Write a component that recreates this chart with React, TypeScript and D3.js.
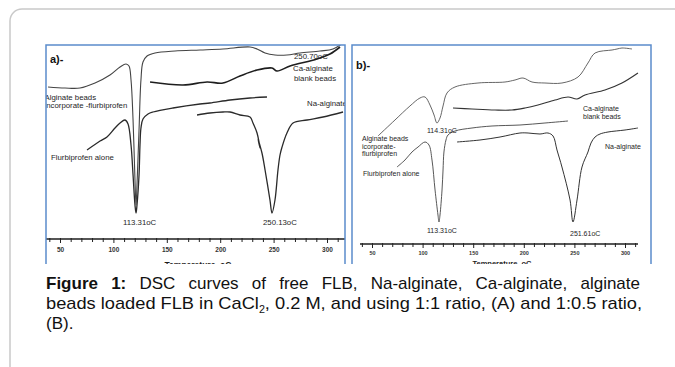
import * as d3 from 'd3';
import { useEffect, useRef } from 'react';

type Pt = [number, number];

// values: [temperature (oC), heat flow (arbitrary units)]

// panel a) 1:1 ratio
const beadsLoadedA: Pt[] = [
  [38.8, 152], [54.7, 151], [68.7, 151], [82.8, 156], [96.8, 164], [106.2, 172], [111.8, 175],
  [114.6, 173], [116.5, 159], [118.4, 119], [120.2, 59], [121.2, 34], [122.1, 54], [124.0, 109],
  [125.8, 159], [127.7, 177], [131.5, 183], [139.0, 186], [157.7, 188], [181.1, 189], [202.6, 190],
  [227.9, 192], [234.5, 190], [242.0, 186], [251.3, 184], [262.5, 184], [274.7, 186], [293.4, 188],
  [305.6, 190], [315.0, 196],
];
const caBlankA: Pt[] = [
  [134.3, 157], [165.2, 154], [187.7, 157], [202.6, 156], [218.5, 163], [234.5, 169], [248.5, 171],
  [253.2, 168], [265.4, 173], [290.6, 180], [302.8, 185], [312.2, 192],
];
const flbAloneA: Pt[] = [
  [75.3, 89], [87.5, 98], [94.0, 102], [101.5, 111], [106.2, 116], [110.9, 119], [113.7, 115],
  [116.5, 94], [118.4, 64], [120.2, 34], [121.2, 26], [122.1, 34], [124.0, 64], [124.9, 94],
  [125.8, 111], [127.7, 120], [132.4, 125], [137.1, 127], [155.8, 131], [181.1, 135], [190.4, 136],
  [209.2, 139], [227.9, 141], [243.8, 142],
];
const naAlginateA: Pt[] = [
  [178.3, 124], [190.4, 126], [202.6, 127], [209.2, 127], [218.5, 124], [227.9, 122], [230.7, 116],
  [234.5, 106], [237.3, 91], [235.4, 100], [239.1, 86], [242.0, 69], [246.6, 39], [248.5, 26],
  [251.3, 39], [254.1, 69], [256.0, 84], [257.9, 92], [262.5, 106], [268.2, 116], [281.3, 119],
  [296.3, 122], [315.0, 127],
];

// panel b) 1:0.5 ratio
const beadsLoadedB: Pt[] = [
  [55.9, 108], [72.7, 124], [87.5, 138], [97.4, 146], [102.4, 147], [107.3, 139], [111.3, 129],
  [114.2, 121], [117.2, 126], [120.2, 138], [124.1, 151], [132.0, 157], [154.7, 161], [181.4, 162],
  [191.3, 164], [199.2, 166], [208.1, 162], [220.9, 161], [237.7, 161], [253.6, 167], [263.4, 181],
  [270.4, 191], [287.2, 194], [292.1, 195], [297.0, 196], [306.9, 195],
];
const caBlankB: Pt[] = [
  [130.0, 136], [148.8, 135], [171.5, 134], [188.3, 134], [201.2, 136], [214.0, 139], [230.8, 144],
  [243.7, 147], [252.6, 145], [260.5, 149], [280.2, 154], [297.0, 161], [312.8, 171],
];
const flbAloneB: Pt[] = [
  [74.7, 77], [82.6, 84], [89.5, 92], [95.5, 97], [102.4, 102], [106.3, 99], [109.3, 84],
  [112.3, 54], [115.2, 29], [116.2, 22], [117.2, 29], [119.2, 54], [120.2, 74], [121.1, 92],
  [123.1, 104], [125.1, 109], [132.0, 113], [148.8, 116], [168.6, 118], [196.2, 119], [220.9, 121],
  [243.7, 123],
];
const naAlginateB: Pt[] = [
  [134.0, 102], [156.7, 104], [176.5, 107], [196.2, 111], [204.2, 111], [216.0, 110], [223.9, 111],
  [228.9, 108], [232.8, 94], [237.7, 77], [245.7, 44], [248.6, 22], [252.6, 44], [257.5, 77],
  [263.4, 92], [266.4, 101], [270.4, 107], [275.3, 110], [283.2, 112], [300.0, 114], [312.8, 116],
];

const tickValues = d3.range(40, 320, 10);
const majorTicks = [50, 100, 150, 200, 250, 300];

const FONT = 'Liberation Sans, Arial, sans-serif';
const INK = '#1e1e1e';
const BLUE = '#5b8ccc';

const W = 675;
const H = 367;

// panel a
const xA = d3.scaleLinear().domain([50, 300]).range([60, 327]);
const yA = d3.scaleLinear().domain([0, 190]).range([239, 49]);
// panel b
const xB = d3.scaleLinear().domain([50, 300]).range([372, 625]);
const yB = d3.scaleLinear().domain([0, 190]).range([244, 54]);

function Labels({ items, size }: { items: [string, number, number][]; size: number }) {
  return (
    <g fontFamily={FONT} fontSize={size} fill={INK}>
      {items.map(([t, x, y], i) => (
        <text key={i} x={x} y={y}>{t}</text>
      ))}
    </g>
  );
}

function App() {
  const axA = useRef<SVGGElement>(null);
  const axB = useRef<SVGGElement>(null);
  const cap1 = useRef<SVGTextElement>(null);

  useEffect(() => {
    const draw = (node: SVGGElement | null, x: d3.ScaleLinear<number, number>, fs: number, ty: number) => {
      const g = d3.select(node);
      g.selectAll('*').remove();
      g.call(
        d3.axisBottom(x)
          .tickValues(tickValues)
          .tickSize(3)
          .tickFormat((d) => (majorTicks.includes(+d) ? String(d) : '')),
      );
      g.attr('font-family', FONT).attr('font-size', fs);
      g.select('.domain').remove();
      g.selectAll('.tick line')
        .attr('stroke', '#222')
        .attr('stroke-width', 1)
        .attr('y1', -1)
        .attr('y2', (d: any) => (majorTicks.includes(+d) ? 4 : 3));
      g.selectAll('.tick text').attr('y', ty).attr('dy', 0).attr('fill', '#333').attr('font-weight', 'bold');
    };
    draw(axA.current, xA, 6.5, 12.5);
    draw(axB.current, xB, 5.5, 11);

    // justify the first caption line by widening the gaps between words
    const t = cap1.current;
    if (t) {
      t.setAttribute('word-spacing', '0');
      const natural = t.getComputedTextLength();
      t.setAttribute('word-spacing', String(Math.max(0, (594 - natural) / 9)));
    }
  }, []);

  const lineA = d3.line<Pt>().x((d) => xA(d[0])).y((d) => yA(d[1])).curve(d3.curveCatmullRom.alpha(0.5));
  const lineB = d3.line<Pt>().x((d) => xB(d[0])).y((d) => yB(d[1])).curve(d3.curveCatmullRom.alpha(0.5));

  return (
    <svg width={W} height={H} style={{ position: 'absolute', left: 0, top: 0, background: '#fff' }}>
      <defs>
        <clipPath id="clipA"><rect x={46} y={45} width={299} height={219} /></clipPath>
        <clipPath id="clipB"><rect x={352} y={45} width={299} height={219} /></clipPath>
      </defs>

      {/* page card */}
      <rect x={10} y={9} width={720} height={420} rx={12} fill="none" stroke="#c9c9c9" strokeWidth={1.5} />

      {/* panel a */}
      <g clipPath="url(#clipA)">
        <g fill="none" strokeLinejoin="round">
          <path d={lineA(beadsLoadedA) ?? ''} stroke="#444" strokeWidth={1.1} />
          <path d={lineA(caBlankA) ?? ''} stroke="#1e1e1e" strokeWidth={1.6} />
          <path d={lineA(flbAloneA) ?? ''} stroke="#2a2a2a" strokeWidth={1.3} />
          <path d={lineA(naAlginateA) ?? ''} stroke="#2a2a2a" strokeWidth={1.3} />
        </g>
        <line x1={46} x2={345} y1={239} y2={239} stroke="#1e1e1e" strokeWidth={1.6} />
        <g ref={axA} transform="translate(0,239)" />
        <text x={50} y={63} fontFamily={FONT} fontSize={11} fontWeight="bold" fill="#111">a)-</text>
        <Labels
          size={7.8}
          items={[
            ['Alginate beads', 44.5, 99.5],
            ['incorporate -flurbiprofen', 44.5, 108],
            ['Flurbiprofen alone', 51, 159.5],
            ['113.31oC', 123, 224.5],
            ['250.13oC', 263, 224.5],
            ['250.70oC', 294, 58.5],
            ['Ca-alginate', 293, 70.5],
            ['blank beads', 294, 80.5],
            ['Na-alginate', 307, 105.5],
          ]}
        />
        <text x={198} y={268} textAnchor="middle" fontFamily={FONT} fontSize={8.5} fontWeight="bold" fill={INK}>
          Temperature, oC
        </text>
      </g>
      <path d="M46,264 V45 H345 V264" fill="none" stroke={BLUE} strokeWidth={1.5} />

      {/* panel b */}
      <g clipPath="url(#clipB)">
        <g fill="none" strokeLinejoin="round">
          <path d={lineB(beadsLoadedB) ?? ''} stroke="#555" strokeWidth={0.9} />
          <path d={lineB(caBlankB) ?? ''} stroke="#333" strokeWidth={1.1} />
          <path d={lineB(flbAloneB) ?? ''} stroke="#444" strokeWidth={0.9} />
          <path d={lineB(naAlginateB) ?? ''} stroke="#333" strokeWidth={1} />
        </g>
        <line x1={360} x2={638} y1={244} y2={244} stroke="#1e1e1e" strokeWidth={1.3} />
        <g ref={axB} transform="translate(0,244)" />
        <text x={356} y={69} fontFamily={FONT} fontSize={11} fontWeight="bold" fill="#111">b)-</text>
        <Labels
          size={7}
          items={[
            ['114.31oC', 427, 132.5],
            ['Alginate beads', 362, 141],
            ['icorporate-', 362, 148.5],
            ['flurbiprofen', 362, 156],
            ['Flurbiprofen alone', 363, 175.5],
            ['113.31oC', 427, 232.5],
            ['251.61oC', 570, 235.5],
            ['Ca-alginate', 583, 110.5],
            ['blank beads', 583, 118.5],
            ['Na-alginate', 605, 148.5],
          ]}
        />
        <text x={502} y={266} textAnchor="middle" fontFamily={FONT} fontSize={7.5} fontWeight="bold" fill={INK}>
          Temperature, oC
        </text>
      </g>
      <path d="M352,264 V45 H651 V264" fill="none" stroke={BLUE} strokeWidth={1.5} />

      {/* caption */}
      <g fontFamily={FONT} fontSize={17} fill="#111">
        <text ref={cap1} x={46} y={289}>
          <tspan fontWeight="bold">Figure 1:</tspan> DSC curves of free FLB, Na-alginate, Ca-alginate, alginate
        </text>
        <text x={46} y={309} textLength={596} lengthAdjust="spacingAndGlyphs">
          beads loaded FLB in CaCl<tspan fontSize={10} dy={4}>2</tspan>
          <tspan dy={-4}>, 0.2 M, and using 1:1 ratio, (A) and 1:0.5 ratio,</tspan>
        </text>
        <text x={46} y={329}>(B).</text>
      </g>
    </svg>
  );
}

export default App;
